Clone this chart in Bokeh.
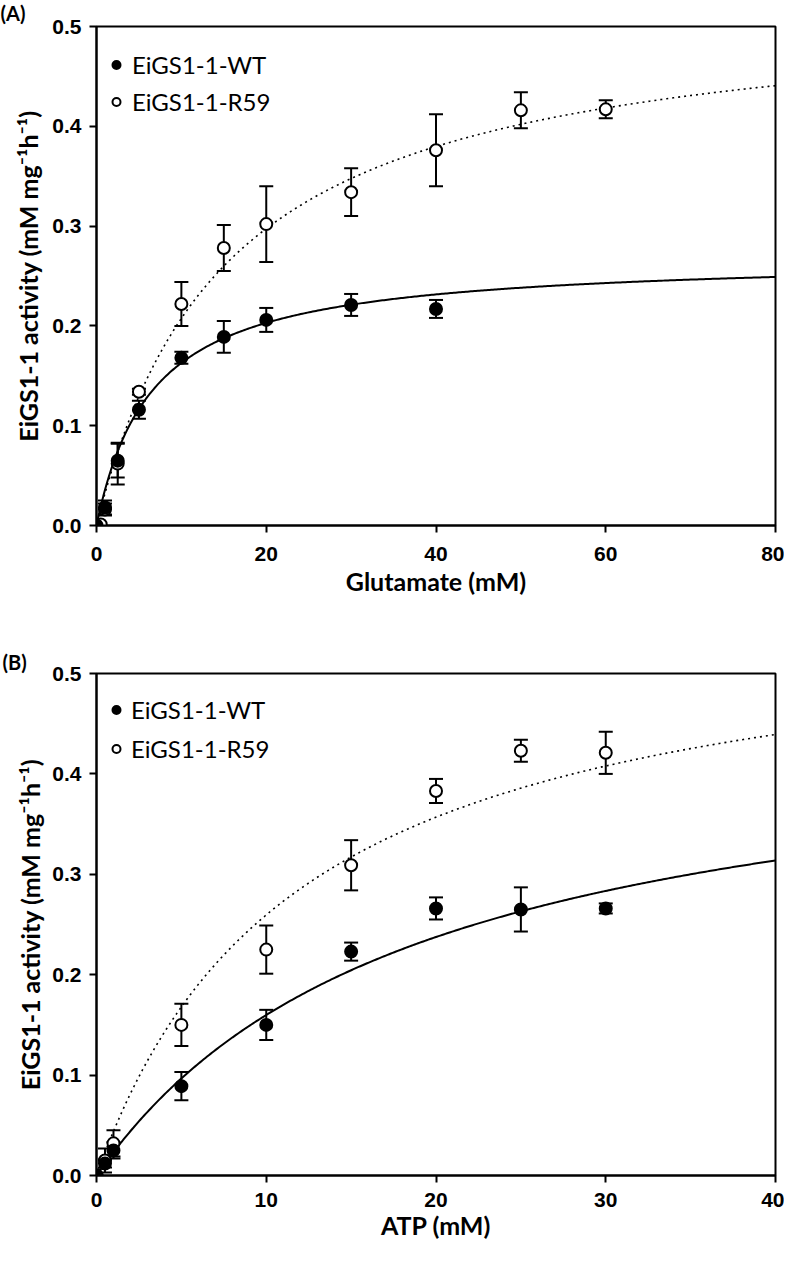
import numpy as np
from bokeh.plotting import figure
from bokeh.layouts import column
from bokeh.models import (ColumnDataSource, Whisker, TeeHead, Legend, LegendItem,
                          Title, Range1d, FixedTicker, NumeralTickFormatter)
from bokeh.embed import file_html
from bokeh.resources import INLINE

# ---------------- Data: Panel A (Glutamate) ----------------
glu_wt_x = [0, 1, 2.5, 5, 10, 15, 20, 30, 40]
glu_wt_y = [0.0, 0.018, 0.065, 0.116, 0.168, 0.189, 0.206, 0.221, 0.217]
glu_wt_err = [0.0, 0.007, 0.017, 0.009, 0.006, 0.016, 0.012, 0.011, 0.009]

glu_r59_x = [0, 0.5, 1, 2.5, 5, 10, 15, 20, 30, 40, 50, 60]
glu_r59_y = [0.0, 0.001, 0.016, 0.062, 0.134, 0.222, 0.278, 0.302, 0.334, 0.376, 0.416, 0.417]
glu_r59_err = [0.0, 0.0, 0.006, 0.021, 0.003, 0.022, 0.023, 0.038, 0.024, 0.036, 0.018, 0.009]

# Michaelis-Menten fit parameters (Vmax, Km)
glu_wt_fit = (0.2694, 6.54)
glu_r59_fit = (0.525, 15.3)

# ---------------- Data: Panel B (ATP) ----------------
atp_wt_x = [0, 0.5, 1, 5, 10, 15, 20, 25, 30]
atp_wt_y = [0.0, 0.012, 0.025, 0.089, 0.150, 0.223, 0.266, 0.265, 0.266]
atp_wt_err = [0.0, 0.004, 0.008, 0.014, 0.015, 0.009, 0.011, 0.022, 0.005]

atp_r59_x = [0, 0.5, 1, 5, 10, 15, 20, 25, 30]
atp_r59_y = [0.0, 0.015, 0.032, 0.150, 0.225, 0.309, 0.383, 0.423, 0.421]
atp_r59_err = [0.0, 0.012, 0.013, 0.021, 0.024, 0.025, 0.012, 0.011, 0.021]

atp_wt_fit = (0.462, 18.9)
atp_r59_fit = (0.571, 12.0)

series_labels = ["EiGS1-1-WT", "EiGS1-1-R59"]
y_label = "EiGS1-1 activity (mM mg\u207b\u00b9h\u207b\u00b9)"

TICK_FONT = "Liberation Sans"
LABEL_FONT = "Lato"


def mm(xs, fit):
    v, k = fit
    xs = np.asarray(xs, dtype=float)
    return v * xs / (k + xs)


def err_source(xs, ys, es):
    xx, lo, hi = [], [], []
    for x, y, e in zip(xs, ys, es):
        if e > 0:
            xx.append(x)
            lo.append(y - e)
            hi.append(y + e)
    return ColumnDataSource(dict(x=xx, lower=lo, upper=hi))


def make_panel(tag, xlabel, xmax, xticks, wt, r59, wt_fit, r59_fit,
               height, border_left, border_right, border_top, border_bottom,
               legend_top, legend_spacing, legend_standoff,
               x_mls, x_als, y_mls, y_als, tag_valign):
    p = figure(width=784, height=height, output_backend="svg", toolbar_location=None,
               x_range=Range1d(0, xmax), y_range=Range1d(0, 0.5),
               min_border_left=border_left, min_border_right=border_right,
               min_border_top=border_top, min_border_bottom=border_bottom,
               background_fill_color="white", border_fill_color="white")
    p.outline_line_color = "black"
    p.outline_line_width = 2
    p.xgrid.visible = False
    p.ygrid.visible = False

    # panel tag as a left-aligned title pushed to the canvas edge
    p.add_layout(Title(text=tag, align="left", offset=-border_left, standoff=0,
                       vertical_align=tag_valign, text_font=LABEL_FONT,
                       text_font_style="bold", text_font_size="20px",
                       text_color="black"), "above")

    for ax in (p.xaxis[0], p.yaxis[0]):
        ax.axis_line_width = 2
        ax.major_tick_line_width = 2
        ax.major_tick_out = 7
        ax.major_tick_in = 0
        ax.minor_tick_line_color = None
        ax.major_label_text_font = TICK_FONT
        ax.major_label_text_font_style = "bold"
        ax.major_label_text_font_size = "21px"
        ax.major_label_text_color = "black"
        ax.axis_label_text_font = LABEL_FONT
        ax.axis_label_text_font_style = "bold"
        ax.axis_label_text_font_size = "25px"
        ax.axis_label_text_color = "black"

    p.xaxis.ticker = FixedTicker(ticks=xticks)
    p.yaxis.ticker = FixedTicker(ticks=[0, 0.1, 0.2, 0.3, 0.4, 0.5])
    p.yaxis.formatter = NumeralTickFormatter(format="0.0")
    p.xaxis.axis_label = xlabel
    p.yaxis.axis_label = y_label
    p.xaxis.major_label_standoff = x_mls
    p.xaxis.axis_label_standoff = x_als
    p.yaxis.major_label_standoff = y_mls
    p.yaxis.axis_label_standoff = y_als

    frame_h = height - border_top - border_bottom

    # fitted curves
    xs = np.linspace(0, xmax, 400)
    p.line(xs, mm(xs, r59_fit), line_color="black", line_width=1.6, line_dash="2 4")
    p.line(xs, mm(xs, wt_fit), line_color="black", line_width=2)

    # error bars
    for (x, y, e) in (r59, wt):
        w = Whisker(source=err_source(x, y, e), base="x", lower="lower", upper="upper",
                    line_color="black", line_width=2,
                    upper_head=TeeHead(size=14, line_width=2, line_color="black"),
                    lower_head=TeeHead(size=14, line_width=2, line_color="black"))
        p.add_layout(w)

    r_r59 = p.scatter(r59[0], r59[1], size=12, marker="circle", fill_color="white",
                      line_color="black", line_width=2)
    r_wt = p.scatter(wt[0], wt[1], size=12, marker="circle", fill_color="black",
                     line_color="black", line_width=2)

    row_h = 29
    legend_h = 2 * row_h + legend_spacing
    legend = Legend(items=[LegendItem(label=series_labels[0], renderers=[r_wt]),
                           LegendItem(label=series_labels[1], renderers=[r_r59])],
                    location=(10, frame_h - legend_top - legend_h),
                    padding=0, margin=0, spacing=legend_spacing,
                    glyph_width=20, glyph_height=row_h, label_height=row_h,
                    label_standoff=legend_standoff,
                    label_text_font=LABEL_FONT, label_text_font_size="24px",
                    label_text_color="black", border_line_color=None,
                    background_fill_alpha=0)
    p.add_layout(legend)
    return p


pA = make_panel("(A)", "Glutamate (mM)", 80, [0, 20, 40, 60, 80],
                (glu_wt_x, glu_wt_y, glu_wt_err), (glu_r59_x, glu_r59_y, glu_r59_err),
                glu_wt_fit, glu_r59_fit,
                height=618, border_left=96, border_right=9, border_top=26, border_bottom=93,
                legend_top=24, legend_spacing=8, legend_standoff=6,
                x_mls=14, x_als=2, y_mls=8, y_als=6, tag_valign="top")

pB = make_panel("(B)", "ATP (mM)", 40, [0, 10, 20, 30, 40],
                (atp_wt_x, atp_wt_y, atp_wt_err), (atp_r59_x, atp_r59_y, atp_r59_err),
                atp_wt_fit, atp_r59_fit,
                height=631, border_left=94, border_right=4, border_top=55, border_bottom=74,
                legend_top=22, legend_spacing=10, legend_standoff=5,
                x_mls=10, x_als=0, y_mls=8, y_als=4, tag_valign="bottom")

layout = column(pA, pB, spacing=0)

with open("out.html", "w") as f:
    f.write(file_html(layout, INLINE))
